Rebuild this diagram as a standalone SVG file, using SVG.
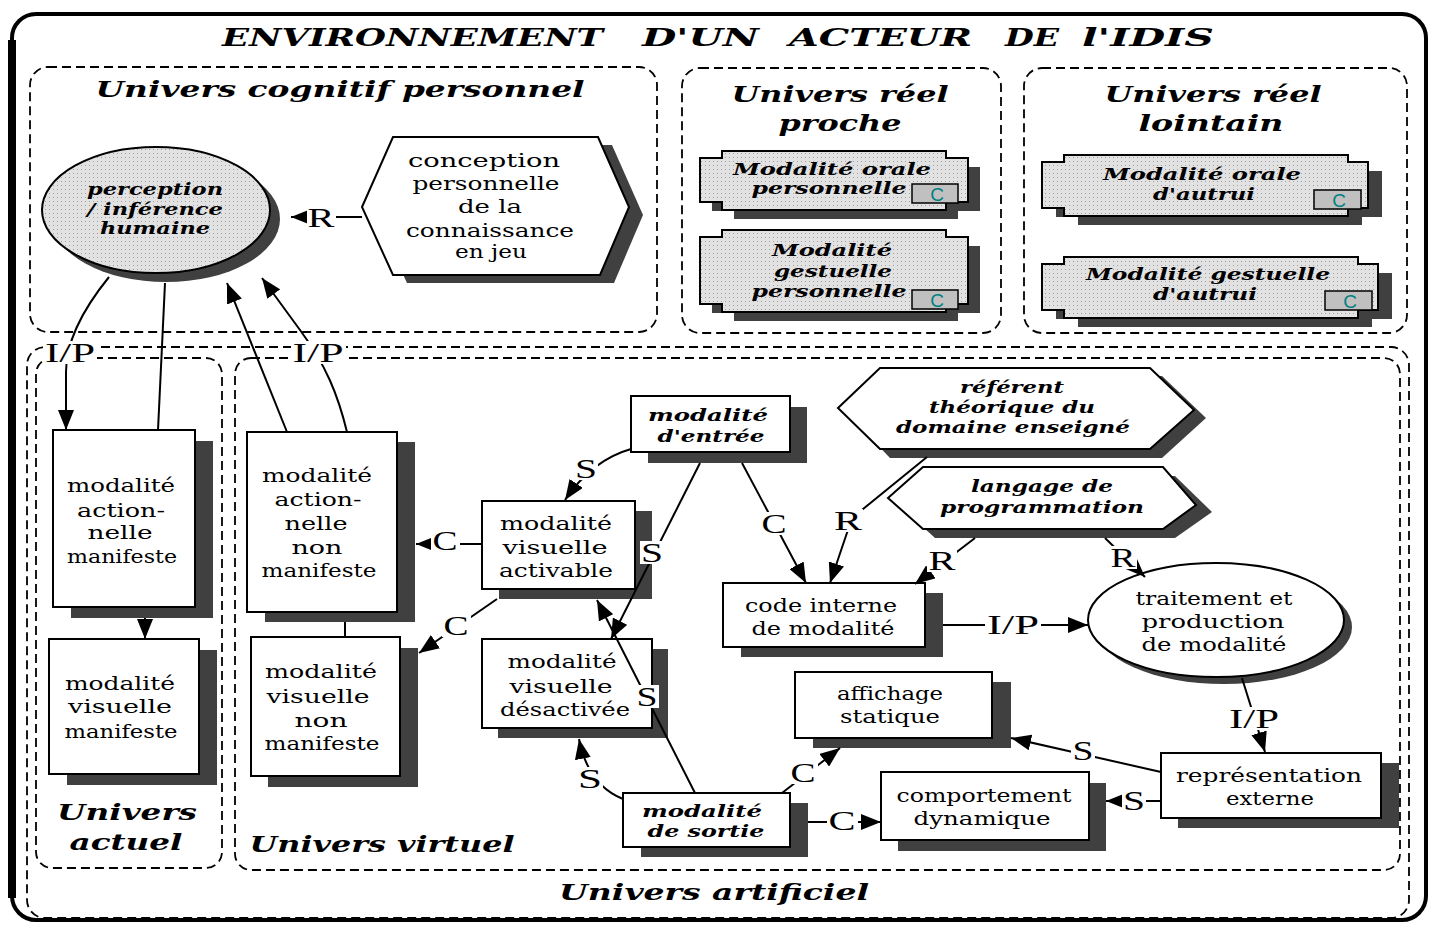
<svg xmlns="http://www.w3.org/2000/svg" width="1433" height="925" viewBox="0 0 1433 925">
<style>
.t{font-family:"DejaVu Serif","Liberation Serif",serif;font-size:18px;text-anchor:middle;fill:#000}
.it{font-family:"DejaVu Serif","Liberation Serif",serif;font-size:16px;font-style:italic;font-weight:bold;text-anchor:middle;fill:#000}
.u{font-family:"DejaVu Serif","Liberation Serif",serif;font-size:23px;font-style:italic;font-weight:bold;text-anchor:middle;fill:#000}
.ti{font-family:"DejaVu Serif","Liberation Serif",serif;font-size:24px;font-style:italic;font-weight:bold;fill:#000}
.l{font-family:"Liberation Serif",serif;font-size:28px;text-anchor:middle;fill:#000}
.lb{fill:#fff}
.box{fill:#fff;stroke:#000;stroke-width:2}
.gbox{fill:url(#dots);stroke:#000;stroke-width:2}
.sh{fill:#404040}
.dash{fill:none;stroke:#000;stroke-width:1.8;stroke-dasharray:9 5}
.con{fill:none;stroke:#000;stroke-width:2;marker-end:url(#ah)}
.con0{fill:none;stroke:#000;stroke-width:2}
.badge{fill:#c0c0c0;stroke:#000;stroke-width:1.5}
.bc{font-family:"Liberation Sans",sans-serif;font-size:19px;fill:#008080;text-anchor:middle}
</style>
<defs>
<pattern id="dots" width="4" height="4" patternUnits="userSpaceOnUse"><rect width="4" height="4" fill="#e2e2e2"/><rect x="1" y="1" width="1" height="1" fill="#a0a0a0"/></pattern>
<marker id="ah" viewBox="0 0 20 16" refX="20" refY="8" markerWidth="20" markerHeight="16" markerUnits="userSpaceOnUse" orient="auto"><path d="M0,0 L20,8 L0,16 Z" fill="#000"/></marker>
</defs>
<rect width="1433" height="925" fill="#fff"/>

<g id="frame">
<rect x="12" y="14" width="1414" height="906" rx="24" fill="none" stroke="#000" stroke-width="4"/>
<path d="M12,40 V898" stroke="#000" stroke-width="8" fill="none"/>
<text class="ti" x="222" y="46" textLength="381" lengthAdjust="spacingAndGlyphs">ENVIRONNEMENT</text>
<text class="ti" x="642" y="46" textLength="117" lengthAdjust="spacingAndGlyphs">D'UN</text>
<text class="ti" x="789" y="46" textLength="183" lengthAdjust="spacingAndGlyphs">ACTEUR</text>
<text class="ti" x="1005" y="46" textLength="54" lengthAdjust="spacingAndGlyphs">DE</text>
<text class="ti" x="1082" y="46" textLength="132" lengthAdjust="spacingAndGlyphs">l'IDIS</text>
</g>

<g id="containers">
<g id="univers-cognitif">
<rect class="dash" x="30" y="67" width="627" height="265" rx="18"/>
<text class="u" x="340" y="97" textLength="489" lengthAdjust="spacingAndGlyphs">Univers cognitif  personnel</text>
</g>
<g id="univers-reel-proche">
<rect class="dash" x="682" y="68" width="319" height="265" rx="18"/>
<text class="u" x="840" y="102" textLength="217" lengthAdjust="spacingAndGlyphs">Univers réel</text>
<text class="u" x="840" y="131" textLength="123" lengthAdjust="spacingAndGlyphs">proche</text>
</g>
<g id="univers-reel-lointain">
<rect class="dash" x="1024" y="68" width="383" height="265" rx="18"/>
<text class="u" x="1213" y="102" textLength="217" lengthAdjust="spacingAndGlyphs">Univers réel</text>
<text class="u" x="1211" y="131" textLength="145" lengthAdjust="spacingAndGlyphs">lointain</text>
</g>
<g id="univers-artificiel">
<rect class="dash" x="27" y="347" width="1382" height="571" rx="18"/>
<text class="u" x="714" y="900" textLength="310" lengthAdjust="spacingAndGlyphs">Univers artificiel</text>
</g>
<g id="univers-actuel">
<rect class="dash" x="36" y="358" width="186" height="510" rx="16"/>
<text class="u" x="127" y="820" textLength="140" lengthAdjust="spacingAndGlyphs">Univers</text>
<text class="u" x="126" y="850" textLength="113" lengthAdjust="spacingAndGlyphs">actuel</text>
</g>
<g id="univers-virtuel">
<rect class="dash" x="235" y="358" width="1165" height="512" rx="16"/>
<text class="u" x="382" y="852" textLength="265" lengthAdjust="spacingAndGlyphs">Univers virtuel</text>
</g>
</g>

<g id="n-perception">
<ellipse class="sh" cx="166" cy="219" rx="114" ry="63"/>
<ellipse class="gbox" cx="156" cy="210" rx="114" ry="63"/>
<text class="it" x="155" y="195" textLength="136" lengthAdjust="spacingAndGlyphs">perception</text>
<text class="it" x="155" y="215" textLength="136" lengthAdjust="spacingAndGlyphs">/ inférence</text>
<text class="it" x="155" y="234" textLength="110" lengthAdjust="spacingAndGlyphs">humaine</text>
</g>

<g id="n-conception">
<polygon class="sh" points="376,215 407,145 612,145 643,215 614,283 407,283"/>
<polygon class="box" points="362,207 393,137 598,137 629,207 600,275 393,275"/>
<text class="t" x="484" y="167" textLength="152" lengthAdjust="spacingAndGlyphs">conception</text>
<text class="t" x="486" y="190" textLength="147" lengthAdjust="spacingAndGlyphs">personnelle</text>
<text class="t" x="490" y="213" textLength="64" lengthAdjust="spacingAndGlyphs">de la</text>
<text class="t" x="490" y="237" textLength="168" lengthAdjust="spacingAndGlyphs">connaissance</text>
<text class="t" x="491" y="258" textLength="72" lengthAdjust="spacingAndGlyphs">en jeu</text>
</g>

<g id="n-orale-perso">
<path class="sh" d="M734,160 H958 V167 H980 V211 H958 V219 H734 V211 H712 V167 H734 Z"/>
<path class="gbox" d="M722,151 H946 V158 H968 V202 H946 V210 H722 V202 H700 V158 H722 Z"/>
<text class="it" x="832" y="175" textLength="198" lengthAdjust="spacingAndGlyphs">Modalité orale</text>
<text class="it" x="829" y="194" textLength="155" lengthAdjust="spacingAndGlyphs">personnelle</text>
<rect class="badge" x="912" y="184" width="46" height="19"/>
<text class="bc" x="937" y="201">C</text>
</g>

<g id="n-gest-perso">
<path class="sh" d="M734,239 H958 V246 H980 V313 H958 V321 H734 V313 H712 V246 H734 Z"/>
<path class="gbox" d="M722,230 H946 V237 H968 V304 H946 V312 H722 V304 H700 V237 H722 Z"/>
<text class="it" x="832" y="256" textLength="120" lengthAdjust="spacingAndGlyphs">Modalité</text>
<text class="it" x="833" y="277" textLength="118" lengthAdjust="spacingAndGlyphs">gestuelle</text>
<text class="it" x="829" y="297" textLength="155" lengthAdjust="spacingAndGlyphs">personnelle</text>
<rect class="badge" x="912" y="290" width="46" height="19"/>
<text class="bc" x="937" y="307">C</text>
</g>

<g id="n-orale-autrui">
<path class="sh" d="M1078,164 H1362 V171 H1382 V217 H1362 V225 H1078 V217 H1056 V171 H1078 Z"/>
<path class="gbox" d="M1064,155 H1348 V162 H1368 V208 H1348 V216 H1064 V208 H1042 V162 H1064 Z"/>
<text class="it" x="1202" y="180" textLength="198" lengthAdjust="spacingAndGlyphs">Modalité orale</text>
<text class="it" x="1204" y="200" textLength="102" lengthAdjust="spacingAndGlyphs">d'autrui</text>
<rect class="badge" x="1314" y="190" width="47" height="19"/>
<text class="bc" x="1339" y="207">C</text>
</g>

<g id="n-gest-autrui">
<path class="sh" d="M1078,266 H1372 V273 H1392 V319 H1372 V327 H1078 V319 H1056 V273 H1078 Z"/>
<path class="gbox" d="M1064,257 H1358 V264 H1378 V310 H1358 V318 H1064 V310 H1042 V264 H1064 Z"/>
<text class="it" x="1208" y="280" textLength="244" lengthAdjust="spacingAndGlyphs">Modalité gestuelle</text>
<text class="it" x="1205" y="300" textLength="104" lengthAdjust="spacingAndGlyphs">d'autrui</text>
<rect class="badge" x="1325" y="291" width="47" height="19"/>
<text class="bc" x="1350" y="308">C</text>
</g>

<g id="n-act-manif">
<rect class="sh" x="71" y="441" width="142" height="177"/>
<rect class="box" x="53" y="430" width="142" height="177"/>
<text class="t" x="121" y="492" textLength="108" lengthAdjust="spacingAndGlyphs">modalité</text>
<text class="t" x="121" y="517" textLength="88" lengthAdjust="spacingAndGlyphs">action-</text>
<text class="t" x="120" y="539" textLength="65" lengthAdjust="spacingAndGlyphs">nelle</text>
<text class="t" x="122" y="563" textLength="110" lengthAdjust="spacingAndGlyphs">manifeste</text>
</g>

<g id="n-vis-manif">
<rect class="sh" x="67" y="650" width="150" height="135"/>
<rect class="box" x="49" y="639" width="150" height="135"/>
<text class="t" x="120" y="690" textLength="110" lengthAdjust="spacingAndGlyphs">modalité</text>
<text class="t" x="120" y="713" textLength="104" lengthAdjust="spacingAndGlyphs">visuelle</text>
<text class="t" x="121" y="738" textLength="113" lengthAdjust="spacingAndGlyphs">manifeste</text>
</g>

<g id="n-act-nonmanif">
<rect class="sh" x="265" y="442" width="150" height="180"/>
<rect class="box" x="247" y="432" width="150" height="180"/>
<text class="t" x="317" y="482" textLength="110" lengthAdjust="spacingAndGlyphs">modalité</text>
<text class="t" x="318" y="506" textLength="87" lengthAdjust="spacingAndGlyphs">action-</text>
<text class="t" x="316" y="530" textLength="63" lengthAdjust="spacingAndGlyphs">nelle</text>
<text class="t" x="317" y="554" textLength="51" lengthAdjust="spacingAndGlyphs">non</text>
<text class="t" x="319" y="577" textLength="115" lengthAdjust="spacingAndGlyphs">manifeste</text>
</g>

<g id="n-vis-nonmanif">
<rect class="sh" x="268" y="648" width="150" height="139"/>
<rect class="box" x="251" y="637" width="149" height="139"/>
<text class="t" x="321" y="678" textLength="112" lengthAdjust="spacingAndGlyphs">modalité</text>
<text class="t" x="318" y="703" textLength="103" lengthAdjust="spacingAndGlyphs">visuelle</text>
<text class="t" x="321" y="727" textLength="53" lengthAdjust="spacingAndGlyphs">non</text>
<text class="t" x="322" y="750" textLength="115" lengthAdjust="spacingAndGlyphs">manifeste</text>
</g>

<g id="n-vis-activable">
<rect class="sh" x="499" y="511" width="153" height="88"/>
<rect class="box" x="482" y="501" width="153" height="88"/>
<text class="t" x="556" y="530" textLength="112" lengthAdjust="spacingAndGlyphs">modalité</text>
<text class="t" x="555" y="554" textLength="105" lengthAdjust="spacingAndGlyphs">visuelle</text>
<text class="t" x="556" y="577" textLength="114" lengthAdjust="spacingAndGlyphs">activable</text>
</g>

<g id="n-vis-desactivee">
<rect class="sh" x="498" y="649" width="170" height="89"/>
<rect class="box" x="482" y="639" width="170" height="89"/>
<text class="t" x="562" y="668" textLength="109" lengthAdjust="spacingAndGlyphs">modalité</text>
<text class="t" x="561" y="693" textLength="103" lengthAdjust="spacingAndGlyphs">visuelle</text>
<text class="t" x="565" y="716" textLength="130" lengthAdjust="spacingAndGlyphs">désactivée</text>
</g>

<g id="n-entree">
<rect class="sh" x="648" y="407" width="159" height="56"/>
<rect class="box" x="631" y="396" width="159" height="56"/>
<text class="it" x="708" y="421" textLength="120" lengthAdjust="spacingAndGlyphs">modalité</text>
<text class="it" x="711" y="442" textLength="107" lengthAdjust="spacingAndGlyphs">d'entrée</text>
</g>

<g id="n-sortie">
<rect class="sh" x="641" y="803" width="167" height="54"/>
<rect class="box" x="623" y="793" width="167" height="54"/>
<text class="it" x="702" y="817" textLength="120" lengthAdjust="spacingAndGlyphs">modalité</text>
<text class="it" x="706" y="837" textLength="117" lengthAdjust="spacingAndGlyphs">de sortie</text>
</g>

<g id="n-code">
<rect class="sh" x="741" y="593" width="202" height="64"/>
<rect class="box" x="723" y="583" width="202" height="64"/>
<text class="t" x="821" y="612" textLength="152" lengthAdjust="spacingAndGlyphs">code interne</text>
<text class="t" x="823" y="635" textLength="143" lengthAdjust="spacingAndGlyphs">de modalité</text>
</g>

<g id="n-traitement">
<ellipse class="sh" cx="1224" cy="627" rx="128" ry="57"/>
<ellipse class="box" cx="1216" cy="620" rx="128" ry="57"/>
<text class="t" x="1214" y="605" textLength="157" lengthAdjust="spacingAndGlyphs">traitement et</text>
<text class="t" x="1213" y="628" textLength="143" lengthAdjust="spacingAndGlyphs">production</text>
<text class="t" x="1214" y="651" textLength="145" lengthAdjust="spacingAndGlyphs">de modalité</text>
</g>

<g id="n-affichage">
<rect class="sh" x="813" y="682" width="198" height="66"/>
<rect class="box" x="795" y="672" width="197" height="66"/>
<text class="t" x="890" y="700" textLength="106" lengthAdjust="spacingAndGlyphs">affichage</text>
<text class="t" x="890" y="723" textLength="100" lengthAdjust="spacingAndGlyphs">statique</text>
</g>

<g id="n-comportement">
<rect class="sh" x="898" y="783" width="208" height="68"/>
<rect class="box" x="881" y="772" width="208" height="68"/>
<text class="t" x="984" y="802" textLength="175" lengthAdjust="spacingAndGlyphs">comportement</text>
<text class="t" x="982" y="825" textLength="137" lengthAdjust="spacingAndGlyphs">dynamique</text>
</g>

<g id="n-representation">
<rect class="sh" x="1178" y="763" width="221" height="65"/>
<rect class="box" x="1161" y="753" width="220" height="65"/>
<text class="t" x="1269" y="782" textLength="186" lengthAdjust="spacingAndGlyphs">représentation</text>
<text class="t" x="1270" y="805" textLength="88" lengthAdjust="spacingAndGlyphs">externe</text>
</g>

<g id="n-referent">
<polygon class="sh" points="850,416 890,376 1162,376 1206,418 1162,458 890,458"/>
<polygon class="box" points="838,408 880,368 1150,368 1194,410 1150,449 880,449"/>
<text class="it" x="1012" y="393" textLength="104" lengthAdjust="spacingAndGlyphs">référent</text>
<text class="it" x="1012" y="413" textLength="166" lengthAdjust="spacingAndGlyphs">théorique du</text>
<text class="it" x="1013" y="433" textLength="234" lengthAdjust="spacingAndGlyphs">domaine enseigné</text>
</g>

<g id="n-langage">
<polygon class="sh" points="900,506 935,476 1175,476 1212,512 1175,538 935,538"/>
<polygon class="box" points="888,498 923,467 1163,467 1196,505 1163,529 923,529"/>
<text class="it" x="1042" y="492" textLength="142" lengthAdjust="spacingAndGlyphs">langage de</text>
<text class="it" x="1042" y="513" textLength="204" lengthAdjust="spacingAndGlyphs">programmation</text>
</g>

<g id="connectors">
<path class="con" d="M362,217 L291,217"/>
<path class="con" d="M109,277 Q66,330 66,372 L66,430"/>
<path class="con0" d="M165,283 L158,430"/>
<path class="con" d="M287,432 L227,283"/>
<path class="con" d="M347,432 C338,395 326,365 300,330 L262,278"/>
<path class="con" d="M145,618 L145,639"/>
<path class="con0" d="M345,622 L345,637"/>
<path class="con" d="M482,544 L416,544"/>
<path class="con" d="M497,599 L419,653"/>
<path class="con" d="M631,449 Q592,460 565,500"/>
<path class="con" d="M700,463 L611,639"/>
<path class="con" d="M695,793 L597,600"/>
<path class="con" d="M623,799 Q588,785 579,739"/>
<path class="con" d="M742,463 L806,583"/>
<path class="con" d="M927,457 L852,518 L830,583"/>
<path class="con" d="M975,538 L915,584"/>
<path class="con" d="M1105,538 L1145,577"/>
<path class="con" d="M943,625 L1088,625"/>
<path class="con" d="M1242,678 L1265,752"/>
<path class="con" d="M1161,772 L1011,738"/>
<path class="con" d="M1161,801 L1106,801"/>
<path class="con" d="M782,793 L840,748"/>
<path class="con" d="M808,822 L881,822"/>
<g id="connector-labels">
<rect class="lb" x="307" y="206" width="29" height="23"/>
<rect class="lb" x="43" y="341" width="54" height="23"/>
<rect class="lb" x="291" y="341" width="55" height="23"/>
<rect class="lb" x="431" y="529" width="29" height="23"/>
<rect class="lb" x="442" y="614" width="29" height="23"/>
<rect class="lb" x="574" y="457" width="24" height="23"/>
<rect class="lb" x="640" y="541" width="24" height="23"/>
<rect class="lb" x="635" y="685" width="24" height="23"/>
<rect class="lb" x="577" y="767" width="26" height="23"/>
<rect class="lb" x="760" y="512" width="29" height="23"/>
<rect class="lb" x="833" y="509" width="30" height="23"/>
<rect class="lb" x="927" y="549" width="30" height="23"/>
<rect class="lb" x="1109" y="546" width="28" height="23"/>
<rect class="lb" x="985" y="613" width="56" height="23"/>
<rect class="lb" x="1227" y="707" width="54" height="23"/>
<rect class="lb" x="1071" y="739" width="24" height="23"/>
<rect class="lb" x="1122" y="789" width="24" height="23"/>
<rect class="lb" x="789" y="761" width="29" height="23"/>
<rect class="lb" x="827" y="809" width="31" height="23"/>
<text class="l" x="321" y="227" textLength="27" lengthAdjust="spacingAndGlyphs">R</text>
<text class="l" x="70" y="362" textLength="50" lengthAdjust="spacingAndGlyphs">I/P</text>
<text class="l" x="318" y="362" textLength="51" lengthAdjust="spacingAndGlyphs">I/P</text>
<text class="l" x="445" y="550" textLength="25" lengthAdjust="spacingAndGlyphs">C</text>
<text class="l" x="456" y="635" textLength="25" lengthAdjust="spacingAndGlyphs">C</text>
<text class="l" x="586" y="478" textLength="22" lengthAdjust="spacingAndGlyphs">S</text>
<text class="l" x="652" y="562" textLength="22" lengthAdjust="spacingAndGlyphs">S</text>
<text class="l" x="647" y="706" textLength="21" lengthAdjust="spacingAndGlyphs">S</text>
<text class="l" x="590" y="788" textLength="24" lengthAdjust="spacingAndGlyphs">S</text>
<text class="l" x="774" y="533" textLength="25" lengthAdjust="spacingAndGlyphs">C</text>
<text class="l" x="848" y="530" textLength="28" lengthAdjust="spacingAndGlyphs">R</text>
<text class="l" x="942" y="570" textLength="27" lengthAdjust="spacingAndGlyphs">R</text>
<text class="l" x="1123" y="567" textLength="25" lengthAdjust="spacingAndGlyphs">R</text>
<text class="l" x="1013" y="634" textLength="52" lengthAdjust="spacingAndGlyphs">I/P</text>
<text class="l" x="1254" y="728" textLength="50" lengthAdjust="spacingAndGlyphs">I/P</text>
<text class="l" x="1083" y="760" textLength="21" lengthAdjust="spacingAndGlyphs">S</text>
<text class="l" x="1134" y="810" textLength="22" lengthAdjust="spacingAndGlyphs">S</text>
<text class="l" x="803" y="782" textLength="25" lengthAdjust="spacingAndGlyphs">C</text>
<text class="l" x="842" y="830" textLength="27" lengthAdjust="spacingAndGlyphs">C</text>
</g>
</g>
</svg>
